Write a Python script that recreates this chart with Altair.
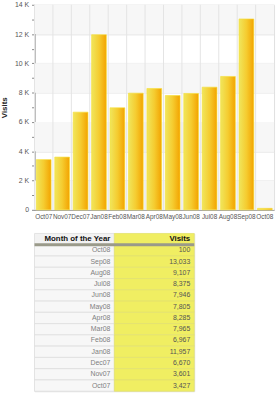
import altair as alt
import pandas as pd

months = ["Oct07", "Nov07", "Dec07", "Jan08", "Feb08", "Mar08", "Apr08",
          "May08", "Jun08", "Jul08", "Aug08", "Sep08", "Oct08"]
visits = [3427, 3601, 6670, 11957, 6967, 7965, 8285,
          7805, 7946, 8375, 9107, 13033, 100]
band_lows = [0, 4000, 8000, 12000]
y_tick_values = list(range(0, 14001, 1000))
table_columns = ["Month of the Year", "Visits"]

FONT = "Liberation Sans"

# ---------------- bar chart ----------------
bars_df = pd.DataFrame({"month": months, "visits": visits})
xscale = alt.Scale(domain=months, paddingInner=0, paddingOuter=0)
yscale = alt.Scale(domain=[0, 14000], nice=False)

xaxis = alt.Axis(title=None, ticks=False, grid=False, labelAngle=0,
                 labelFontSize=6.5, labelColor="#555555", labelPadding=4,
                 domainColor="#999999", labelFont=FONT)
yaxis = alt.Axis(
    title="Visits", titleFontSize=8, titleFontWeight="bold", titleColor="#222222",
    titlePadding=6, titleFont=FONT,
    values=y_tick_values,
    labelExpr="datum.value % 2000 === 0 ? (datum.value === 0 ? '0' : (datum.value/1000) + ' K') : ''",
    labelFontSize=7, labelColor="#555555", labelPadding=3, labelFont=FONT,
    tickSize=3, tickColor="#888888", domainColor="#888888",
    grid=True, gridColor="#e4e4e4",
    gridOpacity={"condition": {"test": "datum.value % 2000 === 0", "value": 1}, "value": 0},
)

bands = alt.Chart(pd.DataFrame({"lo": band_lows})).transform_calculate(
    hi="datum.lo + 2000"
).mark_rect(color="#f7f7f7").encode(
    y=alt.Y("lo:Q", scale=yscale, axis=yaxis),
    y2="hi:Q",
)

vgrid = alt.Chart(bars_df).mark_rule(color="#e4e4e4", strokeWidth=1).encode(
    x=alt.X("month:N", bandPosition=0, scale=xscale, axis=xaxis, sort=months),
)

gradient = alt.LinearGradient(
    gradient="linear",
    stops=[alt.GradientStop(color="#f0e65c", offset=0),
           alt.GradientStop(color="#f5cc30", offset=0.5),
           alt.GradientStop(color="#f3a300", offset=1)],
    x1=0, x2=1, y1=0, y2=0,
)

bars = alt.Chart(bars_df).mark_bar(
    width=alt.RelativeBandSize(0.8), color=gradient,
    stroke="#f6de30", strokeWidth=0.6,
).encode(
    x=alt.X("month:N", scale=xscale, axis=xaxis, sort=months),
    y=alt.Y("visits:Q", scale=yscale, axis=yaxis),
)

top = alt.layer(bands, vgrid, bars).properties(
    width=243, height=208,
    view=alt.ViewBackground(stroke="#e0e0e0"),
)

# ---------------- table ----------------
rows = ["header"] + months[::-1]
cells = []
cells.append({"row": "header", "col": table_columns[0], "text": table_columns[0],
              "fill": "#f2f2f2", "stroke": "#e0e0e0", "kind": "head"})
cells.append({"row": "header", "col": table_columns[1], "text": table_columns[1],
              "fill": "#f0ee62", "stroke": "#e6e470", "kind": "head"})
for m, v in zip(months[::-1], visits[::-1]):
    cells.append({"row": m, "col": table_columns[0], "text": m,
                  "fill": "#f7f7f7", "stroke": "#dedede", "kind": "month"})
    cells.append({"row": m, "col": table_columns[1], "text": f"{v:,}",
                  "fill": "#f0ee62", "stroke": "#e2e070", "kind": "value"})
cells_df = pd.DataFrame(cells)

cscale = alt.Scale(domain=table_columns, paddingInner=0, paddingOuter=0)
rscale = alt.Scale(domain=rows, paddingInner=0, paddingOuter=0)

base = alt.Chart(cells_df)
cell_rects = base.mark_rect(strokeWidth=0.8).encode(
    x=alt.X("col:N", scale=cscale, axis=None, sort=table_columns),
    y=alt.Y("row:N", scale=rscale, axis=None, sort=rows),
    fill=alt.Fill("fill:N", scale=None),
    stroke=alt.Stroke("stroke:N", scale=None),
)

head_text = base.transform_filter("datum.kind === 'head'").mark_text(
    align="right", baseline="middle", dx=-4, fontSize=8, fontWeight="bold",
    color="#111111", font=FONT,
).encode(
    x=alt.X("col:N", scale=cscale, axis=None, sort=table_columns, bandPosition=1),
    y=alt.Y("row:N", scale=rscale, axis=None, sort=rows),
    text="text:N",
)

month_text = base.transform_filter("datum.kind === 'month'").mark_text(
    align="right", baseline="middle", dx=-4, fontSize=7, color="#808080", font=FONT,
).encode(
    x=alt.X("col:N", scale=cscale, axis=None, sort=table_columns, bandPosition=1),
    y=alt.Y("row:N", scale=rscale, axis=None, sort=rows),
    text="text:N",
)

value_text = base.transform_filter("datum.kind === 'value'").mark_text(
    align="right", baseline="middle", dx=-4, fontSize=7, color="#555555", font=FONT,
).encode(
    x=alt.X("col:N", scale=cscale, axis=None, sort=table_columns, bandPosition=1),
    y=alt.Y("row:N", scale=rscale, axis=None, sort=rows),
    text="text:N",
)

head_rule = alt.Chart(pd.DataFrame({"row": ["header"]})).mark_rule(
    color="#9a9a8a", strokeWidth=3
).encode(
    y=alt.Y("row:N", scale=rscale, axis=None, sort=rows, bandPosition=1),
)

table = alt.layer(cell_rects, head_rule, head_text, month_text, value_text).properties(
    width=162, height=160,
)

chart = alt.vconcat(top, table, spacing=12).properties(
    padding={"left": 0, "top": -3, "right": 2, "bottom": 0},
).configure_view(stroke=None).configure(font=FONT, background="white")

chart.save("out.html", embed_options={"renderer": "svg", "actions": False})
